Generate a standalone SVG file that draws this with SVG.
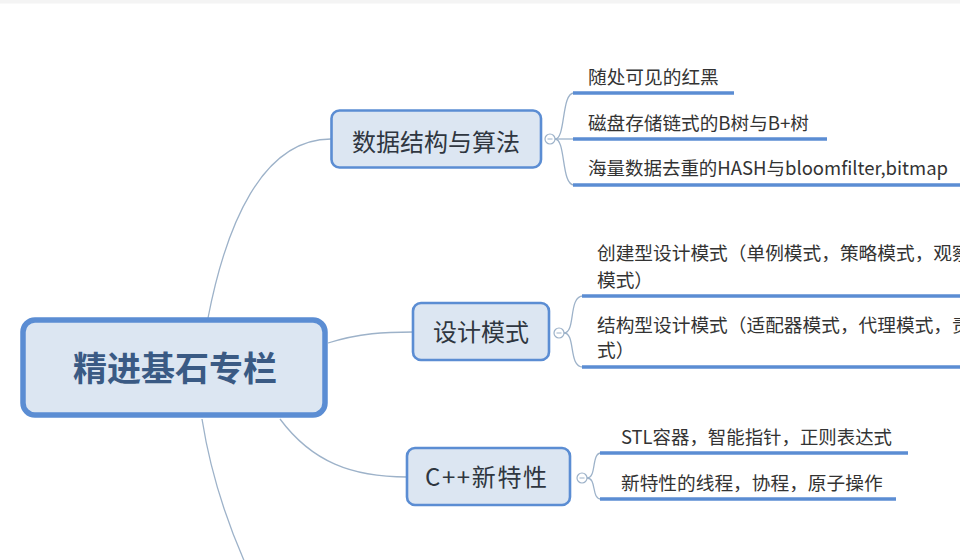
<svg xmlns="http://www.w3.org/2000/svg" width="960" height="560" viewBox="0 0 960 560">
<style>
.box{fill:#dce6f2;stroke:#5b8dd3;stroke-width:2.6}
.root{fill:#dce6f2;stroke:#5b8dd3;stroke-width:5.5}
.conn{fill:none;stroke:#9db2c9;stroke-width:1.3}
.ul{stroke:#5b8dd3;stroke-width:3.4;fill:none}
.tog{fill:#ffffff;stroke:#9db2c9;stroke-width:1.2}
.tx{font-family:"Microsoft YaHei","Noto Sans CJK SC","Noto Sans",sans-serif;fill:#333333}
.nt{font-size:24px;text-anchor:middle;fill:#2f3640}
.ct{font-size:18.7px}
.rt{font-family:"Microsoft YaHei","Noto Sans CJK SC","Noto Sans",sans-serif;font-size:34px;font-weight:bold;fill:#3a5a84;text-anchor:middle}
</style>
<rect x="0" y="0" width="960" height="560" fill="#ffffff"/>
<rect x="0" y="0" width="960" height="3.5" fill="#f4f4f4"/>

<g id="connectors">
<path class="conn" d="M208,318 C226,225 262,139 331,139"/>
<path class="conn" d="M328,343 C360,333 385,332 413,332"/>
<path class="conn" d="M280,419 C312,462 352,477 407,477"/>
<path class="conn" d="M202,419 C210,470 226,520 246,565"/>
<path class="conn" d="M555,139 C566,139 561,93 574,93"/>
<path class="conn" d="M555,139 L574,139"/>
<path class="conn" d="M555,139 C566,139 561,185 574,185"/>
<path class="conn" d="M564,333 C576,333 568,296 583,296"/>
<path class="conn" d="M564,333 C576,333 568,367 583,367"/>
<path class="conn" d="M587,478 C597,478 591,453 601,453"/>
<path class="conn" d="M587,478 C597,478 591,499 601,499"/>
</g>

<g id="root">
<rect class="root" x="23" y="320" width="302" height="95" rx="12"/>
<text class="rt" x="175" y="381">精进基石专栏</text>
</g>

<g id="node-ds">
<rect class="box" x="331.5" y="110.5" width="209.5" height="57" rx="8"/>
<text class="tx nt" x="436" y="151">数据结构与算法</text>
<circle class="tog" cx="550" cy="139" r="5"/>
<line x1="547.5" y1="139" x2="552.5" y2="139" stroke="#9db2c9" stroke-width="1"/>
</g>
<g id="ds-1">
<line class="ul" x1="573" y1="93" x2="734" y2="93"/>
<text class="tx ct" x="588" y="84">随处可见的红黑</text>
</g>
<g id="ds-2">
<line class="ul" x1="573" y1="139" x2="827" y2="139"/>
<text class="tx ct" x="588" y="129.5" textLength="221" lengthAdjust="spacingAndGlyphs">磁盘存储链式的B树与B+树</text>
</g>
<g id="ds-3">
<line class="ul" x1="573" y1="185" x2="962" y2="185"/>
<text class="tx ct" x="588" y="174.5" textLength="360" lengthAdjust="spacingAndGlyphs">海量数据去重的HASH与bloomfilter,bitmap</text>
</g>

<g id="node-dp">
<rect class="box" x="413" y="303" width="136" height="57" rx="8"/>
<text class="tx nt" x="481" y="341">设计模式</text>
<circle class="tog" cx="559" cy="333" r="5"/>
<line x1="556.5" y1="333" x2="561.5" y2="333" stroke="#9db2c9" stroke-width="1"/>
</g>
<g id="dp-1">
<line class="ul" x1="582" y1="296" x2="962" y2="296"/>
<text class="tx ct" x="597" y="260">创建型设计模式（单例模式，策略模式，观察</text>
<text class="tx ct" x="597" y="287">模式）</text>
</g>
<g id="dp-2">
<line class="ul" x1="582" y1="367" x2="962" y2="367"/>
<text class="tx ct" x="597" y="332">结构型设计模式（适配器模式，代理模式，责</text>
<text class="tx ct" x="597" y="357">式）</text>
</g>

<g id="node-cpp">
<rect class="box" x="407" y="448" width="163" height="57" rx="8"/>
<text class="tx nt" x="486" y="486" textLength="122" lengthAdjust="spacing">C++新特性</text>
<circle class="tog" cx="582" cy="478" r="5"/>
<line x1="579.5" y1="478" x2="584.5" y2="478" stroke="#9db2c9" stroke-width="1"/>
</g>
<g id="cpp-1">
<line class="ul" x1="600" y1="453" x2="908" y2="453"/>
<text class="tx ct" x="621" y="444" textLength="271" lengthAdjust="spacingAndGlyphs">STL容器，智能指针，正则表达式</text>
</g>
<g id="cpp-2">
<line class="ul" x1="600" y1="499" x2="896" y2="499"/>
<text class="tx ct" x="621" y="490">新特性的线程，协程，原子操作</text>
</g>
</svg>
